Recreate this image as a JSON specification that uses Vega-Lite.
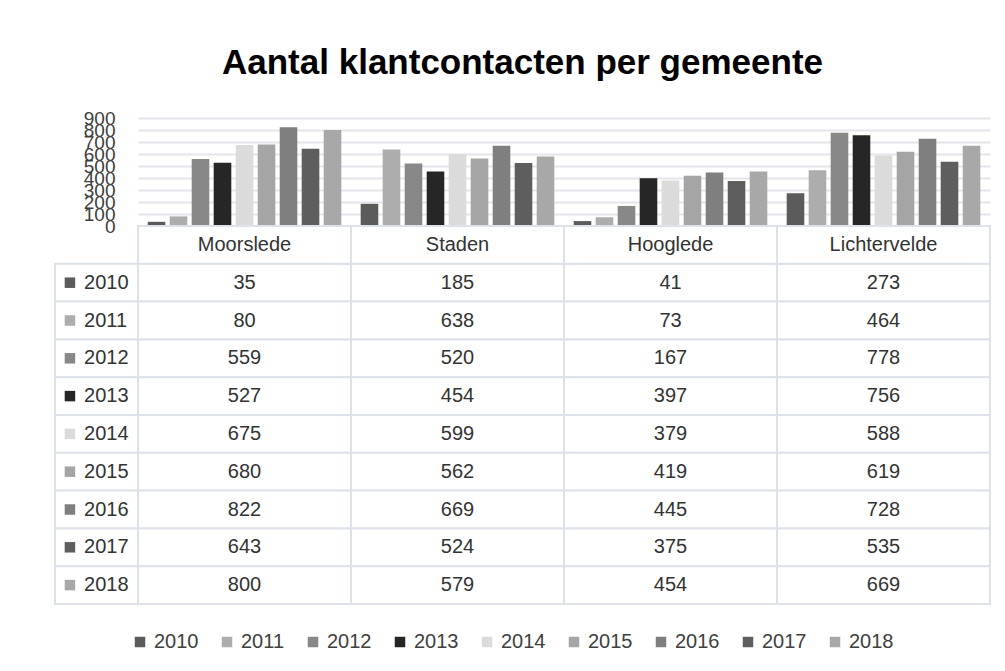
{
  "$schema": "https://vega.github.io/schema/vega-lite/v6.json",
  "background": "white",
  "padding": {"left": 54, "top": 46, "right": 5, "bottom": 5},
  "autosize": {"type": "pad"},
  "datasets": {
    "klant": [
      {"gemeente": "Moorslede", "jaar": "2010", "waarde": 35},
      {"gemeente": "Moorslede", "jaar": "2011", "waarde": 80},
      {"gemeente": "Moorslede", "jaar": "2012", "waarde": 559},
      {"gemeente": "Moorslede", "jaar": "2013", "waarde": 527},
      {"gemeente": "Moorslede", "jaar": "2014", "waarde": 675},
      {"gemeente": "Moorslede", "jaar": "2015", "waarde": 680},
      {"gemeente": "Moorslede", "jaar": "2016", "waarde": 822},
      {"gemeente": "Moorslede", "jaar": "2017", "waarde": 643},
      {"gemeente": "Moorslede", "jaar": "2018", "waarde": 800},
      {"gemeente": "Staden", "jaar": "2010", "waarde": 185},
      {"gemeente": "Staden", "jaar": "2011", "waarde": 638},
      {"gemeente": "Staden", "jaar": "2012", "waarde": 520},
      {"gemeente": "Staden", "jaar": "2013", "waarde": 454},
      {"gemeente": "Staden", "jaar": "2014", "waarde": 599},
      {"gemeente": "Staden", "jaar": "2015", "waarde": 562},
      {"gemeente": "Staden", "jaar": "2016", "waarde": 669},
      {"gemeente": "Staden", "jaar": "2017", "waarde": 524},
      {"gemeente": "Staden", "jaar": "2018", "waarde": 579},
      {"gemeente": "Hooglede", "jaar": "2010", "waarde": 41},
      {"gemeente": "Hooglede", "jaar": "2011", "waarde": 73},
      {"gemeente": "Hooglede", "jaar": "2012", "waarde": 167},
      {"gemeente": "Hooglede", "jaar": "2013", "waarde": 397},
      {"gemeente": "Hooglede", "jaar": "2014", "waarde": 379},
      {"gemeente": "Hooglede", "jaar": "2015", "waarde": 419},
      {"gemeente": "Hooglede", "jaar": "2016", "waarde": 445},
      {"gemeente": "Hooglede", "jaar": "2017", "waarde": 375},
      {"gemeente": "Hooglede", "jaar": "2018", "waarde": 454},
      {"gemeente": "Lichtervelde", "jaar": "2010", "waarde": 273},
      {"gemeente": "Lichtervelde", "jaar": "2011", "waarde": 464},
      {"gemeente": "Lichtervelde", "jaar": "2012", "waarde": 778},
      {"gemeente": "Lichtervelde", "jaar": "2013", "waarde": 756},
      {"gemeente": "Lichtervelde", "jaar": "2014", "waarde": 588},
      {"gemeente": "Lichtervelde", "jaar": "2015", "waarde": 619},
      {"gemeente": "Lichtervelde", "jaar": "2016", "waarde": 728},
      {"gemeente": "Lichtervelde", "jaar": "2017", "waarde": 535},
      {"gemeente": "Lichtervelde", "jaar": "2018", "waarde": 669}
    ]
  },
  "title": {
    "text": "Aantal klantcontacten per gemeente",
    "font": "Liberation Sans",
    "fontSize": 35,
    "fontWeight": "bold",
    "color": "#000000",
    "anchor": "middle",
    "offset": 28
  },
  "columns": 2,
  "spacing": 0,
  "bounds": "flush",
  "concat": [
    {
      "width": 83,
      "height": 108,
      "data": {"values": [{"leeg": ""}]},
      "mark": {"type": "text"},
      "encoding": {"text": {"field": "leeg", "type": "nominal"}}
    },
    {
      "width": 852,
      "height": 108,
      "data": {"name": "klant"},
      "mark": {"type": "bar"},
      "encoding": {
        "x": {
          "field": "gemeente",
          "type": "nominal",
          "sort": ["Moorslede", "Staden", "Hooglede", "Lichtervelde"],
          "scale": {"domain": ["Moorslede", "Staden", "Hooglede", "Lichtervelde"], "paddingInner": 0, "paddingOuter": 0},
          "axis": null
        },
        "xOffset": {
          "field": "jaar",
          "type": "nominal",
          "scale": {"paddingInner": 0.2, "paddingOuter": 0.44}
        },
        "y": {
          "field": "waarde",
          "type": "quantitative",
          "scale": {"domain": [0, 900], "nice": false},
          "axis": {
            "title": null,
            "values": [0, 100, 200, 300, 400, 500, 600, 700, 800, 900],
            "grid": true,
            "gridColor": "#e2e6eb",
            "gridWidth": 2,
            "ticks": false,
            "domain": false,
            "labelFontSize": 19,
            "labelPadding": 23,
            "labelOverlap": false,
            "labelFlush": false,
            "labelColor": "#404040"
          }
        },
        "color": {
          "field": "jaar",
          "type": "nominal",
          "scale": {
            "domain": ["2010", "2011", "2012", "2013", "2014", "2015", "2016", "2017", "2018"],
            "range": ["#5b5b5b", "#adadad", "#888888", "#262626", "#dbdbdb", "#a5a5a5", "#7f7f7f", "#5e5e5e", "#a8a8a8"]
          },
          "legend": {
            "title": null,
            "orient": "none",
            "legendX": 75,
            "legendY": 514,
            "direction": "horizontal",
            "columns": 9,
            "symbolType": "square",
            "symbolSize": 110,
            "symbolStrokeWidth": 0,
            "labelFontSize": 20,
            "labelOffset": 4,
            "columnPadding": 18,
            "labelColor": "#404040"
          }
        }
      }
    },
    {
      "width": 83,
      "height": 378,
      "data": {"name": "klant"},
      "transform": [{"aggregate": [{"op": "count", "as": "n"}], "groupby": ["jaar"]}],
      "layer": [
        {
          "mark": {"type": "rect", "fill": "white", "stroke": "#dde2e9", "strokeWidth": 2},
          "encoding": {
            "y": {
              "field": "jaar",
              "type": "nominal",
              "scale": {"domain": ["hdr", "2010", "2011", "2012", "2013", "2014", "2015", "2016", "2017", "2018"], "paddingInner": 0, "paddingOuter": 0},
              "axis": null
            }
          }
        },
        {
          "mark": {"type": "square", "size": 110, "filled": true, "opacity": 1},
          "encoding": {
            "x": {"datum": 0.18, "type": "quantitative", "scale": {"domain": [0, 1]}, "axis": null},
            "y": {"field": "jaar", "type": "nominal"},
            "color": {
              "field": "jaar",
              "type": "nominal",
              "legend": {
                "title": null,
                "orient": "none",
                "legendX": 75,
                "legendY": 514,
                "direction": "horizontal",
                "columns": 9,
                "symbolType": "square",
                "symbolSize": 110,
                "symbolStrokeWidth": 0,
                "labelFontSize": 20,
                "labelOffset": 4,
                "columnPadding": 18,
                "labelColor": "#404040"
              }
            }
          }
        },
        {
          "mark": {"type": "text", "align": "left", "fontSize": 20, "color": "#333333"},
          "encoding": {
            "x": {"datum": 0.35, "type": "quantitative"},
            "y": {"field": "jaar", "type": "nominal"},
            "text": {"field": "jaar", "type": "nominal"}
          }
        }
      ]
    },
    {
      "width": 852,
      "height": 378,
      "data": {"name": "klant"},
      "encoding": {
        "x": {
          "field": "gemeente",
          "type": "nominal",
          "scale": {"domain": ["Moorslede", "Staden", "Hooglede", "Lichtervelde"], "paddingInner": 0, "paddingOuter": 0},
          "axis": null
        }
      },
      "layer": [
        {
          "mark": {"type": "rect", "fill": "white", "stroke": "#dde2e9", "strokeWidth": 2},
          "encoding": {
            "y": {
              "field": "jaar",
              "type": "nominal",
              "scale": {"domain": ["hdr", "2010", "2011", "2012", "2013", "2014", "2015", "2016", "2017", "2018"], "paddingInner": 0, "paddingOuter": 0},
              "axis": null
            }
          }
        },
        {
          "mark": {"type": "text", "fontSize": 20, "color": "#333333"},
          "encoding": {
            "y": {"field": "jaar", "type": "nominal"},
            "text": {"field": "waarde", "type": "quantitative"}
          }
        },
        {
          "transform": [{"aggregate": [{"op": "count", "as": "n"}], "groupby": ["gemeente"]}],
          "layer": [
            {
              "mark": {"type": "rect", "fill": "white", "stroke": "#dde2e9", "strokeWidth": 2},
              "encoding": {"y": {"datum": "hdr", "type": "nominal"}}
            },
            {
              "mark": {"type": "text", "fontSize": 20, "color": "#333333"},
              "encoding": {
                "y": {"datum": "hdr", "type": "nominal"},
                "text": {"field": "gemeente", "type": "nominal"}
              }
            }
          ]
        }
      ]
    }
  ],
  "config": {
    "view": {"stroke": null},
    "font": "Liberation Sans",
    "axis": {"labelFont": "Liberation Sans"},
    "legend": {"labelFont": "Liberation Sans"}
  }
}
